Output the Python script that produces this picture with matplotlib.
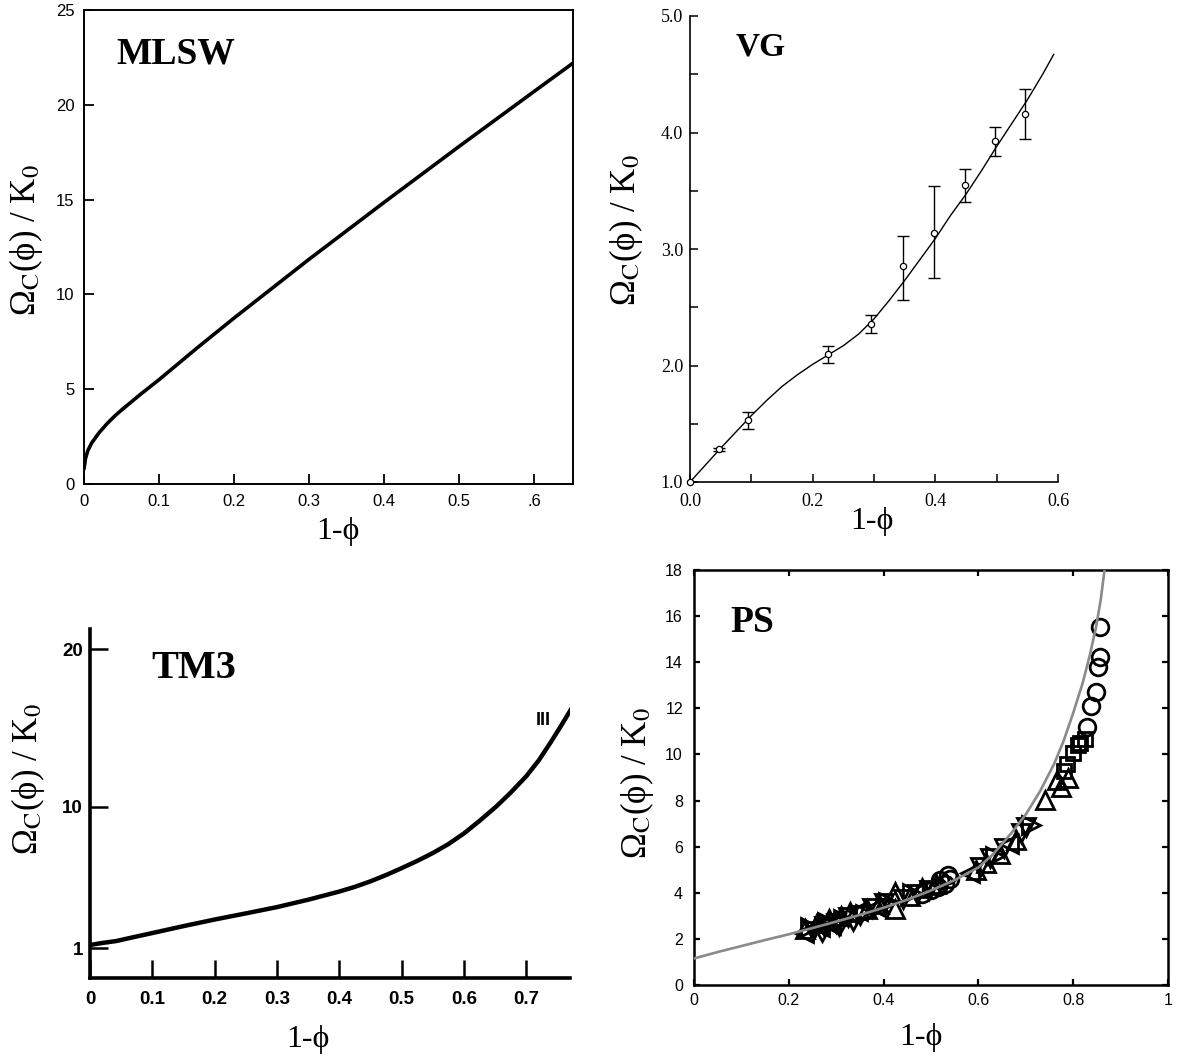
import matplotlib
matplotlib.use("Agg")
import matplotlib.pyplot as plt

plt.rcParams['mathtext.fontset'] = 'stix'
plt.rcParams['font.family'] = ['Liberation Serif', 'DejaVu Serif']

# ---- MLSW ----
mlsw_x = [0, 0.002, 0.005, 0.01, 0.02, 0.03, 0.04, 0.05, 0.075, 0.1, 0.15, 0.2, 0.3, 0.4,
          0.5, 0.6, 0.652]
mlsw_y = [0.8, 1.35, 1.75, 2.15, 2.7, 3.15, 3.55, 3.9, 4.72, 5.5, 7.15, 8.75, 11.85, 14.85,
          17.8, 20.7, 22.2]
mlsw_xticks = [0, 0.1, 0.2, 0.3, 0.4, 0.5, 0.6]
mlsw_xlabels = ['0', '0.1', '0.2', '0.3', '0.4', '0.5', '.6']
mlsw_yticks = [0, 5, 10, 15, 20, 25]

# ---- VG ----
vg_curve_x = [0, 0.05, 0.1, 0.125, 0.15, 0.175, 0.2, 0.225, 0.25, 0.275, 0.3, 0.325, 0.35,
              0.375, 0.4, 0.425, 0.45, 0.475, 0.5, 0.525, 0.55, 0.575, 0.593]
vg_curve_y = [1.0, 1.29, 1.57, 1.70, 1.82, 1.92, 2.01, 2.09, 2.17, 2.27, 2.40, 2.56, 2.73,
              2.91, 3.09, 3.29, 3.47, 3.67, 3.88, 4.08, 4.28, 4.5, 4.67]
vg_x = [0.048, 0.095, 0.225, 0.295, 0.347, 0.398, 0.448, 0.497, 0.546]
vg_y = [1.28, 1.53, 2.10, 2.36, 2.85, 3.14, 3.55, 3.93, 4.16]
vg_lo = [1.27, 1.455, 2.02, 2.28, 2.565, 2.75, 3.40, 3.80, 3.94]
vg_hi = [1.29, 1.60, 2.17, 2.43, 3.11, 3.54, 3.69, 4.05, 4.37]

# ---- TM3 ----
tm_x = [0, 0.02, 0.042, 0.07, 0.1, 0.15, 0.2, 0.25, 0.3, 0.35, 0.4, 0.425, 0.45, 0.475,
        0.5, 0.525, 0.55, 0.575, 0.6, 0.625, 0.652, 0.675, 0.7, 0.72, 0.739, 0.755, 0.773]
tm_y = [1.2, 1.33, 1.45, 1.7, 1.96, 2.4, 2.82, 3.21, 3.61, 4.08, 4.6, 4.9, 5.25, 5.65,
        6.09, 6.55, 7.05, 7.62, 8.3, 9.1, 10.02, 10.9, 11.94, 12.95, 14.09, 15.1, 16.28]

# ---- PS ----
ps_curve_x = [0, 0.05, 0.1, 0.15, 0.2, 0.25, 0.3, 0.35, 0.4, 0.45, 0.5, 0.55, 0.6, 0.63,
              0.67, 0.7, 0.73, 0.76, 0.78, 0.8, 0.82, 0.835, 0.848, 0.858, 0.868]
ps_curve_y = [1.15, 1.43, 1.69, 1.95, 2.2, 2.47, 2.75, 3.04, 3.35, 3.7, 4.1, 4.55, 5.1, 5.65,
              6.6, 7.4, 8.4, 9.6, 10.6, 11.8, 13.1, 14.3, 15.5, 16.7, 18.3]
ps_circ_x = [0.857, 0.857, 0.853, 0.848, 0.838, 0.829, 0.48, 0.50, 0.515, 0.53, 0.54, 0.535, 0.52]
ps_circ_y = [15.54, 14.24, 13.8, 12.7, 12.1, 11.2, 3.95, 4.1, 4.25, 4.4, 4.6, 4.75, 4.55]
ps_sq_x = [0.825, 0.815, 0.81, 0.80, 0.787, 0.78]
ps_sq_y = [10.65, 10.5, 10.4, 10.06, 9.6, 9.3]
ps_up_x = [0.741, 0.765, 0.775, 0.79, 0.595, 0.615, 0.645, 0.68,
           0.235, 0.26, 0.285, 0.31, 0.33, 0.365, 0.39, 0.425, 0.425, 0.455, 0.48, 0.51]
ps_up_y = [8.02, 8.9, 8.6, 9.0, 5.0, 5.3, 5.7, 6.3,
           2.45, 2.7, 2.85, 3.0, 3.15, 3.3, 3.5, 4.05, 3.3, 3.85, 4.2, 4.4]
ps_dn_x = [0.603, 0.625, 0.655, 0.69, 0.70,
           0.25, 0.275, 0.30, 0.325, 0.35, 0.375, 0.40, 0.44, 0.47, 0.495]
ps_dn_y = [5.1, 5.5, 5.95, 6.6, 6.85,
           2.35, 2.55, 2.7, 2.95, 3.05, 3.35, 3.55, 3.75, 3.95, 4.1]
ps_lt_x = [0.582, 0.665, 0.232, 0.265, 0.29, 0.345, 0.385]
ps_lt_y = [4.85, 6.1, 2.25, 2.5, 2.6, 3.2, 3.4]
ps_rt_x = [0.635, 0.71, 0.245, 0.28, 0.315, 0.36, 0.41, 0.46]
ps_rt_y = [5.6, 6.95, 2.5, 2.75, 2.85, 3.1, 3.6, 4.0]
ps_dm_x = [0.27, 0.305, 0.335]
ps_dm_y = [2.4, 2.65, 2.85]

W, H = 1177, 1059
fig = plt.figure(figsize=(W / 100, H / 100), dpi=100)


def box(l, t, r, b):
    return [l / W, 1 - b / H, (r - l) / W, (b - t) / H]


ylab = 'Ω$_\\mathrm{C}$(ϕ) / K$_\\mathrm{0}$'
xlab = '1-ϕ'

# MLSW
ax1 = fig.add_axes(box(84, 10, 573, 484))
ax1.plot(mlsw_x, mlsw_y, color='black', lw=2.6, solid_capstyle='round')
ax1.set_xlim(0, 0.652)
ax1.set_ylim(0, 25)
ax1.set_xticks(mlsw_xticks)
ax1.set_xticklabels(mlsw_xlabels)
ax1.set_yticks(mlsw_yticks)
ax1.tick_params(direction='in', length=7, width=1.3, top=False, right=False,
                labelsize=12, pad=7)
for lb in ax1.get_xticklabels() + ax1.get_yticklabels():
    lb.set_family('Liberation Sans')
for s in ax1.spines.values():
    s.set_linewidth(1.4)

# VG
ax2 = fig.add_axes(box(690, 16, 1058, 482))
ax2.plot(vg_curve_x, vg_curve_y, color='black', lw=1.0)
yerr = [[v - lo for v, lo in zip(vg_y, vg_lo)], [hi - v for v, hi in zip(vg_y, vg_hi)]]
ax2.errorbar(vg_x, vg_y, yerr=yerr, fmt='none', ecolor='black', elinewidth=1.0,
             capsize=4, capthick=1.0)
ax2.plot([0.0] + vg_x, [1.0] + vg_y, 'o', ms=4.5, mfc='white', mec='black', mew=0.9,
         clip_on=False, zorder=5)
ax2.set_xlim(0, 0.6)
ax2.set_ylim(1.0, 5.0)
ax2.set_xticks([0, 0.1, 0.2, 0.3, 0.4, 0.5, 0.6])
ax2.set_xticklabels(['0.0', '', '0.2', '', '0.4', '', '0.6'])
ax2.set_yticks([1.0, 1.5, 2.0, 2.5, 3.0, 3.5, 4.0, 4.5, 5.0])
ax2.set_yticklabels(['1.0', '', '2.0', '', '3.0', '', '4.0', '', '5.0'])
ax2.spines['top'].set_visible(False)
ax2.spines['right'].set_visible(False)
ax2.spines['left'].set_linewidth(1.2)
ax2.spines['bottom'].set_linewidth(1.2)
ax2.tick_params(direction='in', length=6, width=1.1, labelsize=13, pad=8)
ax2.tick_params(axis='y', pad=5)

# TM3
ax3 = fig.add_axes(box(90, 629, 570, 978))
ax3.plot(tm_x, tm_y, color='black', lw=3.2, solid_joinstyle='round')
ax3.set_xlim(0, 0.77)
ax3.set_ylim(-0.9, 21.3)
ax3.set_xticks([0, 0.1, 0.2, 0.3, 0.4, 0.5, 0.6, 0.7])
ax3.set_xticklabels(['0', '0.1', '0.2', '0.3', '0.4', '0.5', '0.6', '0.7'])
ax3.set_yticks([1, 10, 20])
ax3.spines['top'].set_visible(False)
ax3.spines['right'].set_visible(False)
ax3.spines['left'].set_linewidth(2.6)
ax3.spines['bottom'].set_linewidth(2.6)
ax3.tick_params(direction='in', length=13, width=1.8, labelsize=13.5, pad=9)
ax3.tick_params(axis='y', pad=5)
for lb in ax3.get_xticklabels() + ax3.get_yticklabels():
    lb.set_family('Liberation Sans')
    lb.set_weight('bold')
ax3.text(0.727, 15.5, 'III', ha='center', va='center', fontsize=13,
         family='Liberation Sans', weight='bold')

# PS
ax4 = fig.add_axes(box(694, 570, 1168, 985))
ax4.plot(ps_curve_x, ps_curve_y, color='#8a8a8a', lw=1.9, zorder=3)
mk = dict(ls='none', mfc='none', mec='black', mew=2.0, zorder=2)
ax4.plot(ps_up_x, ps_up_y, '^', ms=13, **mk)
ax4.plot(ps_dn_x, ps_dn_y, 'v', ms=13, **mk)
ax4.plot(ps_lt_x, ps_lt_y, '<', ms=13, **mk)
ax4.plot(ps_rt_x, ps_rt_y, '>', ms=13, **mk)
ax4.plot(ps_dm_x, ps_dm_y, 'd', ms=11, **mk)
ax4.plot(ps_sq_x, ps_sq_y, 's', ms=10, **mk)
ax4.plot(ps_circ_x, ps_circ_y, 'o', ms=12, **mk)
ax4.set_xlim(0, 1)
ax4.set_ylim(0, 18)
ax4.set_xticks([0, 0.2, 0.4, 0.6, 0.8, 1])
ax4.set_xticklabels(['0', '0.2', '0.4', '0.6', '0.8', '1'])
ax4.set_yticks(range(0, 19, 2))
ax4.tick_params(direction='in', length=4, width=1.6, top=True, right=True,
                labelsize=11.5, pad=6)
ax4.tick_params(axis='y', pad=8)
for lb in ax4.get_xticklabels() + ax4.get_yticklabels():
    lb.set_family('Liberation Sans')
for s in ax4.spines.values():
    s.set_linewidth(1.8)

# panel names
for name, (px, py), fs in [('MLSW', (116, 64), 27), ('VG', (736, 56), 24),
                           ('TM3', (151, 678), 29), ('PS', (730, 632), 27)]:
    fig.text(px / W, 1 - py / H, name, fontsize=fs, weight='bold', va='baseline', ha='left')

# axis labels
for (px, py) in [(26, 240), (626, 230), (28, 779), (637, 783)]:
    fig.text(px / W, 1 - py / H, ylab, rotation=90, fontsize=25, ha='center', va='center')
for (px, py) in [(338, 532), (872, 522), (308, 1039), (921, 1038)]:
    fig.text(px / W, 1 - py / H, xlab, fontsize=23, ha='center', va='center')

fig.savefig('out.png', dpi=100, facecolor='white')
